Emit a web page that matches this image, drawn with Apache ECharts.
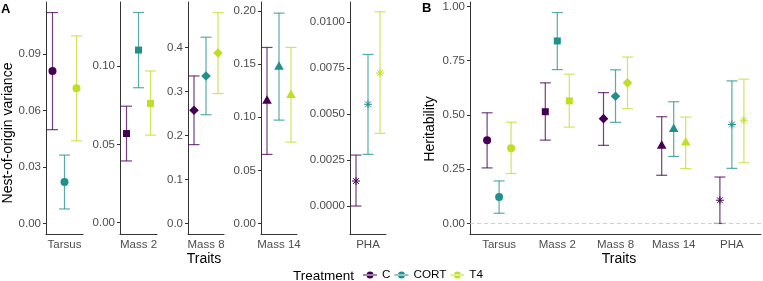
<!DOCTYPE html>
<html>
<head>
<meta charset="utf-8">
<script src="https://cdn.jsdelivr.net/npm/echarts@6/dist/echarts.min.js"></script>
<style>
  html, body { margin: 0; padding: 0; background: #fff; }
  #chart { width: 763px; height: 281px; }
</style>
</head>
<body>
<div id="chart"></div>
<script>
// categories
var traits = ["Tarsus", "Mass 2", "Mass 8", "Mass 14", "PHA"];
var treatments = ["C", "CORT", "T4"];

// panel A: nest-of-origin variance (estimate, lower, upper), one value per trait
var nestC = [0.081, 0.057, 0.257, 0.116, 0.00136];
var nestCLo = [0.0498, 0.0395, 0.179, 0.065, 0.0];
var nestCHi = [0.112, 0.0745, 0.335, 0.1657, 0.00277];
var nestCORT = [0.022, 0.1104, 0.335, 0.148, 0.00553];
var nestCORTLo = [0.0077, 0.0863, 0.247, 0.0973, 0.00281];
var nestCORTHi = [0.0363, 0.1344, 0.423, 0.198, 0.00824];
var nestT4 = [0.0718, 0.0763, 0.387, 0.1215, 0.00723];
var nestT4Lo = [0.0439, 0.056, 0.295, 0.0766, 0.00395];
var nestT4Hi = [0.0996, 0.097, 0.479, 0.1657, 0.01056];

// panel B: heritability
var herC = [0.383, 0.515, 0.483, 0.36, 0.107];
var herCLo = [0.256, 0.384, 0.36, 0.222, 0.0];
var herCHi = [0.51, 0.648, 0.603, 0.492, 0.214];
var herCORT = [0.122, 0.841, 0.586, 0.438, 0.456];
var herCORTLo = [0.047, 0.709, 0.466, 0.309, 0.254];
var herCORTHi = [0.196, 0.972, 0.708, 0.561, 0.657];
var herT4 = [0.347, 0.565, 0.648, 0.375, 0.476];
var herT4Lo = [0.23, 0.444, 0.529, 0.253, 0.28];
var herT4Hi = [0.467, 0.688, 0.767, 0.49, 0.665];

// tick labels
var ticksA = [
  [0, 0.03, 0.06, 0.09],
  [0, 0.05, 0.1],
  [0, 0.1, 0.2, 0.3, 0.4],
  [0, 0.05, 0.1, 0.15, 0.2],
  [0, 0.0025, 0.005, 0.0075, 0.01]
];
var ticksB = [0, 0.25, 0.5, 0.75, 1];

// styles / layout
var colors = { C: "#440154", CORT: "#21908C", T4: "#BFDF25" };
var dodge = { C: -12, CORT: 0, T4: 12 };
var shapes = ["circle", "rect", "diamond", "triangle", "asterisk"];
var decimalsA = [2, 2, 1, 2, 4];
var facetLeft = [46, 120, 188, 261, 350];
var facetWidth = [37, 37, 36, 36, 36];
var rangeA = [[-0.0056, 0.1176], [-0.0072, 0.1411], [-0.024, 0.503], [-0.0099, 0.2085], [-0.00152, 0.01109]];
var font = "Liberation Sans, Arial, sans-serif";
var axisColor = "#333";
var labelColor = "#4D4D4D";

function symbol(shape, x, y, color) {
  var st = { fill: color };
  if (shape === "circle") return [{ type: "circle", shape: { cx: x, cy: y, r: 4 }, style: st }];
  if (shape === "rect") return [{ type: "rect", shape: { x: x - 3.5, y: y - 3.5, width: 7, height: 7 }, style: st }];
  if (shape === "diamond") return [{ type: "polygon", shape: { points: [[x, y - 4.8], [x + 4.8, y], [x, y + 4.8], [x - 4.8, y]] }, style: st }];
  if (shape === "triangle") return [{ type: "polygon", shape: { points: [[x, y - 5], [x + 4.8, y + 3.5], [x - 4.8, y + 3.5]] }, style: st }];
  var r = 4, d = 2.9, ls = { stroke: color, lineWidth: 1 };
  return [
    { type: "line", shape: { x1: x - r, y1: y, x2: x + r, y2: y }, style: ls },
    { type: "line", shape: { x1: x, y1: y - r, x2: x, y2: y + r }, style: ls },
    { type: "line", shape: { x1: x - d, y1: y - d, x2: x + d, y2: y + d }, style: ls },
    { type: "line", shape: { x1: x - d, y1: y + d, x2: x + d, y2: y - d }, style: ls }
  ];
}

function makeRender(treat, shapeOf) {
  return function (params, api) {
    var c = api.value(0);
    var p = api.coord([c, api.value(1)]);
    var lo = api.coord([c, api.value(2)]);
    var hi = api.coord([c, api.value(3)]);
    var x = p[0] + dodge[treat];
    var col = colors[treat];
    var ls = { stroke: col, lineWidth: 1.2, opacity: 0.75 };
    var kids = [
      { type: "line", shape: { x1: x, y1: hi[1], x2: x, y2: lo[1] }, style: ls },
      { type: "line", shape: { x1: x - 5.5, y1: hi[1], x2: x + 5.5, y2: hi[1] }, style: ls },
      { type: "line", shape: { x1: x - 5.5, y1: lo[1], x2: x + 5.5, y2: lo[1] }, style: ls }
    ];
    return { type: "group", children: kids.concat(symbol(shapeOf(params.dataIndex), x, p[1], col)) };
  };
}

var nest = {
  C: [nestC, nestCLo, nestCHi],
  CORT: [nestCORT, nestCORTLo, nestCORTHi],
  T4: [nestT4, nestT4Lo, nestT4Hi]
};
var her = {
  C: [herC, herCLo, herCHi],
  CORT: [herCORT, herCORTLo, herCORTHi],
  T4: [herT4, herT4Lo, herT4Hi]
};

var grids = [], xAxes = [], yAxes = [], series = [];

function xAxisFor(i, data) {
  return {
    type: "category", gridIndex: i, data: data,
    axisLine: { onZero: false, lineStyle: { color: axisColor, width: 1 } },
    axisTick: { alignWithLabel: true, length: 3, lineStyle: { color: axisColor } },
    axisLabel: { color: labelColor, fontSize: 11.5, fontFamily: font, margin: 5, interval: 0 },
    splitLine: { show: false }
  };
}
function yAxisFor(i, min, max, ticks, dec) {
  return {
    type: "value", gridIndex: i, min: min, max: max,
    axisLine: { show: true, onZero: false, lineStyle: { color: axisColor, width: 1 } },
    axisTick: { show: true, length: 3, customValues: ticks, lineStyle: { color: axisColor } },
    axisLabel: {
      color: labelColor, fontSize: 11.5, fontFamily: font, margin: 5,
      customValues: ticks,
      formatter: function (v) { return Number(v).toFixed(dec); }
    },
    splitLine: { show: false }
  };
}

// panel A facets
traits.forEach(function (t, i) {
  grids.push({ left: facetLeft[i], top: 2, width: facetWidth[i], height: 232 });
  xAxes.push(xAxisFor(i, [t]));
  yAxes.push(yAxisFor(i, rangeA[i][0], rangeA[i][1], ticksA[i], decimalsA[i]));
  treatments.forEach(function (tr) {
    var v = nest[tr];
    series.push({
      type: "custom", name: tr, xAxisIndex: i, yAxisIndex: i,
      itemStyle: { color: colors[tr] },
      encode: { x: 0, y: 1 },
      renderItem: makeRender(tr, function () { return shapes[i]; }),
      data: [[t, v[0][i], v[1][i], v[2][i]]]
    });
  });
});

// panel B
var bi = traits.length;
grids.push({ left: 470, top: 2, width: 291, height: 232 });
xAxes.push(xAxisFor(bi, traits));
yAxes.push(yAxisFor(bi, -0.0486, 1.0206, ticksB, 2));
treatments.forEach(function (tr, k) {
  var v = her[tr];
  var s = {
    type: "custom", name: tr, xAxisIndex: bi, yAxisIndex: bi,
    itemStyle: { color: colors[tr] },
    encode: { x: 0, y: 1 },
    renderItem: makeRender(tr, function (idx) { return shapes[idx]; }),
    data: traits.map(function (t, j) { return [t, v[0][j], v[1][j], v[2][j]]; })
  };
  if (k === 0) {
    s.markLine = {
      silent: true, symbol: "none", label: { show: false },
      lineStyle: { color: "#c4c4c4", type: [4, 3], width: 0.8 },
      data: [{ yAxis: 0 }]
    };
  }
  series.push(s);
});

var keyIcon = "path://M0,3.5h14v1h-14z M7,0.5a3.5,3.5 0 1,0 0.001,0z";

var option = {
  animation: false,
  backgroundColor: "#fff",
  textStyle: { fontFamily: font },
  grid: grids,
  xAxis: xAxes,
  yAxis: yAxes,
  legend: {
    left: 363, top: 269, padding: 0,
    itemWidth: 14, itemHeight: 8, itemGap: 4,
    textStyle: { fontSize: 11.7, color: "#000", fontFamily: font },
    data: treatments.map(function (t) { return { name: t, icon: keyIcon }; })
  },
  graphic: [
    { type: "text", x: 1, y: 3, style: { text: "A", font: "bold 13px " + font, fill: "#000" } },
    { type: "text", x: 422, y: 2, style: { text: "B", font: "bold 13px " + font, fill: "#000" } },
    { type: "text", x: 8, y: 133, rotation: Math.PI / 2,
      style: { text: "Nest-of-origin variance", font: "14px " + font, fill: "#000", textAlign: "center", textVerticalAlign: "middle" } },
    { type: "text", x: 430, y: 129, rotation: Math.PI / 2,
      style: { text: "Heritability", font: "14px " + font, fill: "#000", textAlign: "center", textVerticalAlign: "middle" } },
    { type: "text", x: 204, y: 259,
      style: { text: "Traits", font: "14px " + font, fill: "#000", textAlign: "center", textVerticalAlign: "middle" } },
    { type: "text", x: 619, y: 259,
      style: { text: "Traits", font: "14px " + font, fill: "#000", textAlign: "center", textVerticalAlign: "middle" } },
    { type: "text", x: 293, y: 276,
      style: { text: "Treatment", font: "13.5px " + font, fill: "#000", textAlign: "left", textVerticalAlign: "middle" } }
  ],
  series: series
};

var myChart = echarts.init(document.getElementById("chart"));
option && myChart.setOption(option);
</script>
</body>
</html>
